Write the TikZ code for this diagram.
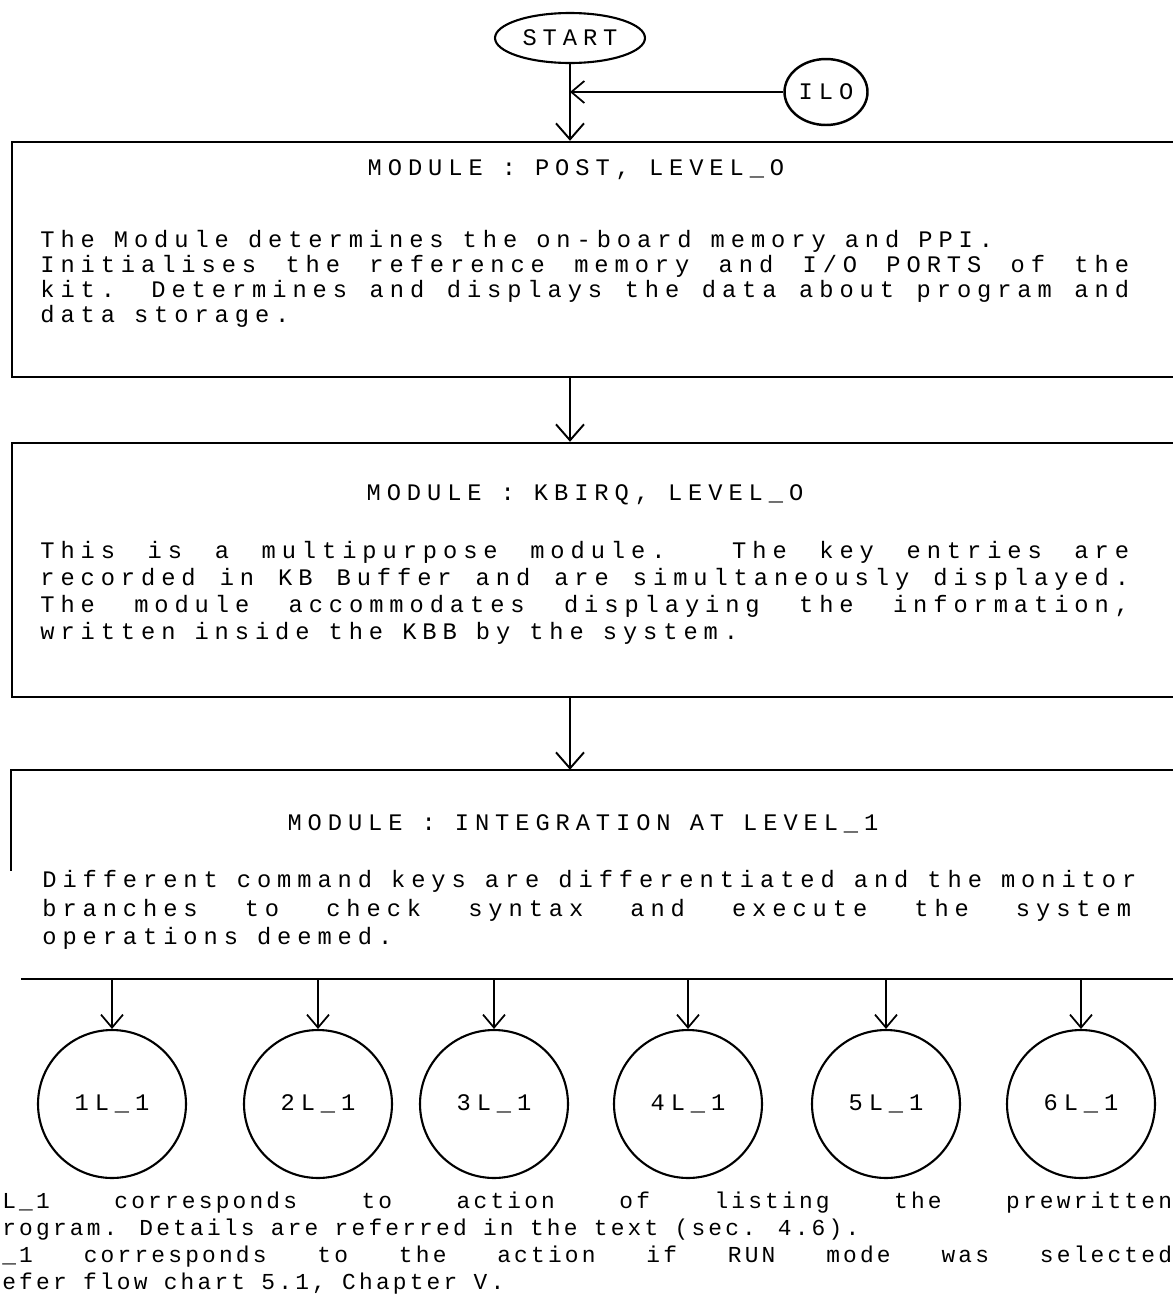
\documentclass[tikz,border=0pt]{standalone}
\usepackage{fontspec}
\newfontfamily\dotfont{Liberation Mono}[LetterSpace=25]
\newfontfamily\footfont{Liberation Mono}[LetterSpace=14]
\usetikzlibrary{positioning,arrows.meta,shapes.geometric}

\newlength\wordsp
\newlength\fullwd
\setlength\fullwd{21.78cm}
\newcommand\dottext{\dotfont\fontsize{13.5pt}{14.2pt}\selectfont\setlength\wordsp{10.84pt}\spaceskip=\wordsp\relax}
\newcommand\foottext{\footfont\fontsize{13pt}{14.7pt}\selectfont\setlength\wordsp{9.3pt}\spaceskip=\wordsp\relax}
% justified line: spaces stretch to fill the width
\newcommand\jline[2]{\makebox[#1][s]{\spaceskip=\dimexpr\wordsp\relax plus 1fil\relax #2}}

\begin{document}
\begin{tikzpicture}[
    x=0.02cm, y=-0.02cm,
    modbox/.style={rectangle, line width=1.4pt, minimum width=23.56cm, inner sep=0pt},
    edge/.style={line width=1.4pt},
    termbox/.style={draw, ellipse, line width=1.2pt, minimum width=3cm, minimum height=1cm, inner sep=0pt, font=\dottext},
    conn/.style={draw, ellipse, line width=1.4pt, minimum width=1.66cm, minimum height=1.32cm, inner sep=0pt, font=\dottext},
    act/.style={draw, circle, line width=1.2pt, minimum size=2.96cm, inner sep=0pt, font=\dottext},
    hdr/.style={inner sep=0pt, font=\dottext},
    para/.style={anchor=west, align=left, inner sep=0pt, font=\dottext\setlength\baselineskip{#1}},
    foot/.style={anchor=west, align=left, inner sep=0pt, font=\foottext\setlength\baselineskip{#1}},
    arr/.style={line width=1.1pt, -{Straight Barb[length=3.2mm, width=5.6mm]}},
    sarr/.style={line width=1pt, -{Straight Barb[length=2.6mm, width=4.4mm]}}
]
\useasboundingbox (0,0) rectangle (1173,1309);
\clip (0,0) rectangle (1173,1309);

\node[termbox] (start) at (570,38) {START};
\node[conn] (ilo) at (826,92) {ILO};
\coordinate (join) at (start |- ilo);

% modules
\node[modbox, draw, minimum height=4.7cm] (post) at (601,259.5) {};
\node[modbox, draw, minimum height=5.08cm] (kbirq) at (601,570) {};
\node[modbox, minimum height=4.14cm] (integ) at (601,874.5) {};
\draw[edge] (integ.north east) -- (integ.north west) -- ++(0,101);
\draw[edge] ([xshift=0.2cm]integ.south west) -- (integ.south east);

\node[hdr] (postT) at (576,170) {MODULE : POST, LEVEL\_O};
\node[para=14.2pt] (postB) at (40,279) {%
The Module determines the on-board memory and PPI.\\
\jline{\fullwd}{Initialises the reference memory and I/O PORTS of the}\\
\jline{\fullwd}{kit. Determines and displays the data about program and}\\
data storage.};

\node[hdr] (kbirqT) at (585,495) {MODULE : KBIRQ, LEVEL\_O};
\node[para=15.3pt] (kbirqB) at (40,593) {%
\jline{\fullwd}{This is a multipurpose module. The key entries are}\\
\jline{\fullwd}{recorded in KB Buffer and are simultaneously displayed.}\\
\jline{\fullwd}{The module accommodates displaying the information,}\\
written inside the KBB by the system.};

\node[hdr] (integT) at (583,824) {MODULE : INTEGRATION AT LEVEL\_1};
\node[para=16.2pt] (integB) at (42,910) {%
Different command keys are differentiated and the monitor\\
\jline{\fullwd}{branches to check syntax and execute the system}\\
operations deemed.};

\draw[arr] (start) -- (start |- post.north);
\draw[sarr] (ilo) -- (join);
\draw[arr] (post.south -| start) -- (kbirq.north -| start);
\draw[arr] (kbirq.south -| start) -- (integ.north -| start);

% level 1 actions
\foreach \n/\x/\t in {a/112/1L\_1, b/318/2L\_1, c/494/3L\_1, d/688/4L\_1, e/886/5L\_1, f/1081/6L\_1}{
  \node[act] (\n) at (\x,1104) {\t};
  \draw[sarr] (integ.south -| \n) -- (\n);
}

\node[foot=15.3pt] (note) at (2,1243) {%
\jline{23.4cm}{L\_1 corresponds to action of listing the prewritten}\\
rogram. Details are referred in the text (sec. 4.6).\\
\jline{23.4cm}{\_1 corresponds to the action if RUN mode was selected}\\
efer flow chart 5.1, Chapter V.};

\end{tikzpicture}
\end{document}
